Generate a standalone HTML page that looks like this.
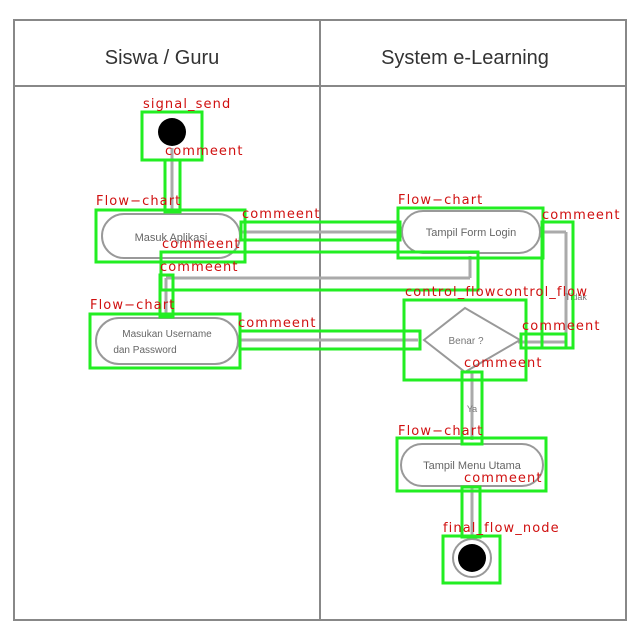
<!DOCTYPE html><html><head><style>body{margin:0;background:#fff}svg{display:block}</style></head><body>
<svg width="640" height="640" xmlns="http://www.w3.org/2000/svg" font-family="Liberation Sans, sans-serif">
<rect x="14" y="20" width="612" height="600" fill="#fff" stroke="#888" stroke-width="2"/>
<line x1="14" y1="86" x2="626" y2="86" stroke="#888" stroke-width="2"/>
<line x1="320" y1="20" x2="320" y2="620" stroke="#888" stroke-width="2"/>
<text x="162" y="64" font-size="20" text-anchor="middle" fill="#333">Siswa / Guru</text>
<text x="465" y="64" font-size="20" text-anchor="middle" fill="#333">System e-Learning</text>
<g stroke="#aaa" stroke-width="3" fill="none">
<line x1="172" y1="148" x2="172" y2="212"/>
<line x1="240" y1="232" x2="400" y2="232"/>
<line x1="470" y1="256" x2="470" y2="278"/><line x1="470" y1="278" x2="166" y2="278"/><line x1="166" y1="278" x2="166" y2="316"/>
<line x1="238" y1="340" x2="418" y2="340"/>
<line x1="540" y1="232" x2="566" y2="232"/><line x1="566" y1="232" x2="566" y2="342"/><line x1="566" y1="342" x2="518" y2="342"/>
<line x1="472" y1="372" x2="472" y2="440"/>
<line x1="472" y1="486" x2="472" y2="540"/>
</g>
<circle cx="172" cy="132" r="14" fill="#000"/>
<rect x="102" y="214" width="138" height="44" rx="22" fill="#fff" stroke="#999" stroke-width="2"/>
<text x="171" y="241" font-size="11" text-anchor="middle" fill="#666">Masuk Aplikasi</text>
<rect x="402" y="211" width="138" height="42" rx="21" fill="#fff" stroke="#999" stroke-width="2"/>
<text x="471" y="236" font-size="11" text-anchor="middle" fill="#666">Tampil Form Login</text>
<rect x="96" y="318" width="142" height="46" rx="23" fill="#fff" stroke="#999" stroke-width="2"/>
<text x="167" y="337" font-size="10" text-anchor="middle" fill="#666">Masukan Username</text>
<text x="145" y="353" font-size="10" text-anchor="middle" fill="#666">dan Password</text>
<polygon points="465,308 520,340 465,372 424,340" fill="#fff" stroke="#999" stroke-width="2"/>
<text x="466" y="344" font-size="10" text-anchor="middle" fill="#777">Benar ?</text>
<text x="472" y="412" font-size="9" text-anchor="middle" fill="#777">Ya</text>
<text x="576" y="300" font-size="9" text-anchor="middle" fill="#777">Tidak</text>
<rect x="401" y="444" width="142" height="42" rx="21" fill="#fff" stroke="#999" stroke-width="2"/>
<text x="472" y="469" font-size="11" text-anchor="middle" fill="#666">Tampil Menu Utama</text>
<circle cx="472" cy="558" r="19" fill="#fff" stroke="#999" stroke-width="2"/>
<circle cx="472" cy="558" r="14" fill="#000"/>
<g stroke="#22ee22" stroke-width="3" fill="none">
<rect x="142" y="112" width="60" height="48"/>
<rect x="165" y="160" width="15" height="52"/>
<rect x="96" y="210" width="149" height="52"/>
<rect x="241" y="222" width="159" height="18"/>
<rect x="161" y="252" width="317" height="38"/>
<rect x="160" y="275" width="13" height="42"/>
<rect x="398" y="208" width="145" height="50"/>
<rect x="90" y="314" width="150" height="54"/>
<rect x="240" y="331" width="180" height="18"/>
<rect x="404" y="300" width="122" height="80"/>
<rect x="542" y="222" width="31" height="126"/>
<rect x="521" y="334" width="45" height="14"/>
<rect x="462" y="372" width="20" height="72"/>
<rect x="397" y="438" width="149" height="53"/>
<rect x="462" y="487" width="18" height="50"/>
<rect x="443" y="536" width="57" height="47"/>
</g>
<g fill="#d01010" font-size="13" letter-spacing="1.1" font-family="DejaVu Sans, sans-serif">
<text x="143" y="108">signal_send</text>
<text x="165" y="155">commeent</text>
<text x="96" y="205">Flow−chart</text>
<text x="242" y="218">commeent</text>
<text x="162" y="248">commeent</text>
<text x="160" y="271">commeent</text>
<text x="90" y="309">Flow−chart</text>
<text x="238" y="327">commeent</text>
<text x="398" y="204">Flow−chart</text>
<text x="542" y="219">commeent</text>
<text x="405" y="296">control_flowcontrol_flow</text>
<text x="522" y="330">commeent</text>
<text x="464" y="367">commeent</text>
<text x="398" y="435">Flow−chart</text>
<text x="464" y="482">commeent</text>
<text x="443" y="532">final_flow_node</text>
</g>
</svg></body></html>
